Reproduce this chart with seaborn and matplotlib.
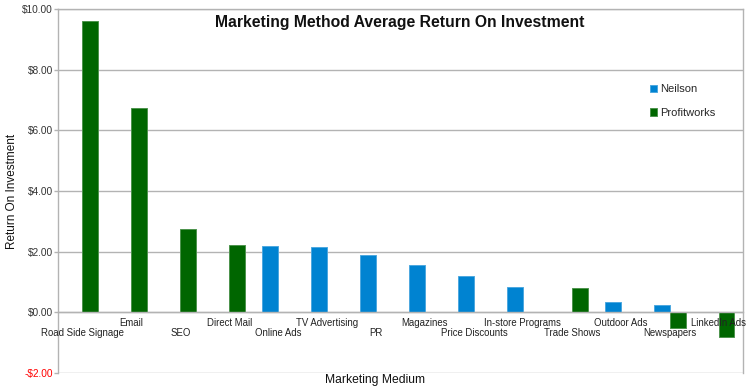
import matplotlib
matplotlib.use("Agg")
import matplotlib.pyplot as plt
import matplotlib.colors as mcolors
import seaborn as sns
import pandas as pd

# Values (dollars returned per dollar spent)
categories = ["Road Side Signage", "Email", "SEO", "Direct Mail", "Online Ads",
              "TV Advertising", "PR", "Magazines", "Price Discounts",
              "In-store Programs", "Trade Shows", "Outdoor Ads", "Newspapers",
              "LinkedIn Ads"]
neilson_cats = ["Online Ads", "TV Advertising", "PR", "Magazines",
                "Price Discounts", "In-store Programs", "Outdoor Ads", "Newspapers"]
neilson_vals = [2.18, 2.15, 1.90, 1.57, 1.19, 0.85, 0.34, 0.24]
profit_cats = ["Road Side Signage", "Email", "SEO", "Direct Mail",
               "Trade Shows", "Newspapers", "LinkedIn Ads"]
profit_vals = [9.60, 6.72, 2.74, 2.23, 0.81, -0.50, -0.80]
series = ["Neilson", "Profitworks"]
y_ticks = [-2, 0, 2, 4, 6, 8, 10]

rows = [(c, "Neilson", v) for c, v in zip(neilson_cats, neilson_vals)]
rows += [(c, "Profitworks", v) for c, v in zip(profit_cats, profit_vals)]
df = pd.DataFrame(rows, columns=["Marketing Medium", "Series", "ROI"])

sns.set_style("white")
plt.rcParams["font.family"] = ["Liberation Sans", "DejaVu Sans"]

blue = "#0083d1"
green = "#006600"
grid_col = "#b3b3b3"

fig = plt.figure(figsize=(7.5, 3.92), dpi=100)
ax = fig.add_axes([58 / 750, 1 - 373 / 392, (743 - 58) / 750, (373 - 9) / 392])

sns.barplot(data=df, x="Marketing Medium", y="ROI", hue="Series",
            order=categories, hue_order=series, palette=[blue, green],
            width=0.65, errorbar=None, saturation=1, ax=ax, linewidth=0.7)

# lighter outline around each bar, like the original
for p in ax.patches:
    fc = mcolors.to_rgb(p.get_facecolor())
    p.set_edgecolor(tuple(c + (1 - c) * 0.3 for c in fc))

# category labels, staggered on two rows just under the zero line
ax.set_xticks(range(len(categories)), labels=[""] * len(categories))
ax.set_xticks([i - 0.5 for i in range(len(categories) + 1)], minor=True)
ax.tick_params(axis="x", which="major", length=0)
ax.tick_params(axis="x", which="minor", length=3, color=grid_col, width=1)
for i, c in enumerate(categories):
    ax.annotate(c, xy=(i, 0), xytext=(0, -3.8 if i % 2 else -11.3),
                textcoords="offset points", ha="center", va="top",
                fontsize=6.9, color="#222222", annotation_clip=False, zorder=5)
ax.set_xlim(-0.5, len(categories) - 0.5)

ax.set_ylim(-2, 10)
ax.set_yticks(y_ticks, labels=[("-$%.2f" % -v) if v < 0 else ("$%.2f" % v) for v in y_ticks])
ax.tick_params(axis="y", length=3, color=grid_col, width=1, pad=0.5,
               labelsize=7.3, labelcolor="#333333", left=True)
for t, v in zip(ax.get_yticklabels(), y_ticks):
    if v < 0:
        t.set_color("#ff0000")
ax.yaxis.grid(True, color=grid_col, linewidth=1)
ax.xaxis.grid(False)
ax.set_axisbelow(True)

for s in ax.spines.values():
    s.set_color(grid_col)
    s.set_linewidth(1)
    s.set_visible(True)
ax.spines["bottom"].set_position(("data", 0))

ax.set_ylabel("Return On Investment", fontsize=8.5, color="#111111")
ax.yaxis.label.set_va("center")
ax.yaxis.set_label_coords((12 - 58) / 685, 0.5)
ax.set_xlabel("Marketing Medium", fontsize=8.7, color="#111111")
ax.xaxis.label.set_va("center")
ax.xaxis.set_label_coords((375 - 58) / 685, (373 - 380) / 364)

fig.text(400 / 750, 1 - 22 / 392, "Marketing Method Average Return On Investment",
         ha="center", va="center", fontsize=11.3, fontweight="bold", color="#111111")

ax.legend(loc="upper left", bbox_to_anchor=(650 / 750, 1 - 84 / 392),
          bbox_transform=fig.transFigure, frameon=False, fontsize=8,
          handlelength=0.6, handleheight=0.6, handletextpad=0.3,
          labelspacing=1.25, borderpad=0, borderaxespad=0, title=None)

fig.savefig("out.png", dpi=100)
